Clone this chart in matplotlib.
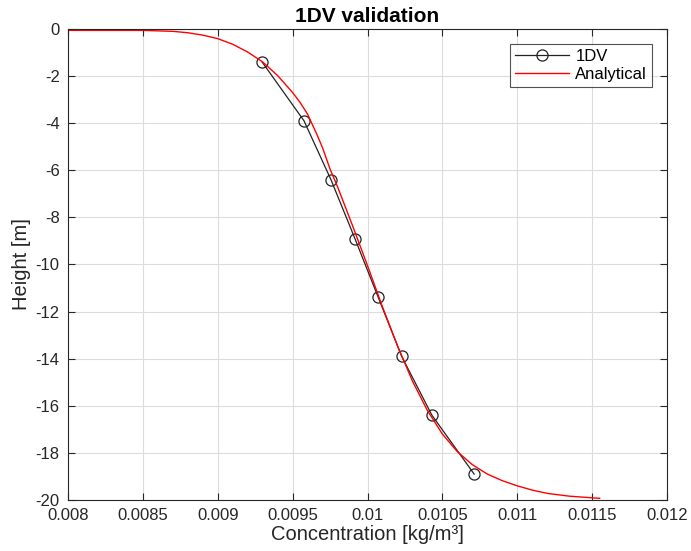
import numpy as np
import matplotlib
matplotlib.use('Agg')
import matplotlib.pyplot as plt

plt.rcParams['font.family'] = ['Liberation Sans', 'DejaVu Sans']
plt.rcParams['axes.unicode_minus'] = False

# 1DV model points
conc_1dv = [0.009296, 0.009576, 0.009756, 0.009916, 0.010072, 0.010228, 0.010430, 0.010712]
height_1dv = [-1.4, -3.9, -6.4, -8.9, -11.4, -13.9, -16.4, -18.9]

# analytical profile
conc_an = [0.00800, 0.00850, 0.00870, 0.00880, 0.00890, 0.00900, 0.00910, 0.00920,
           0.00930, 0.00940, 0.00950, 0.00955, 0.00960, 0.00966, 0.00970, 0.00975,
           0.00980, 0.00990, 0.01000, 0.01010, 0.01020, 0.01030, 0.01040, 0.01050,
           0.01060, 0.01070, 0.01080, 0.01090, 0.01100, 0.01110, 0.01120, 0.01135,
           0.01155]
height_an = [-0.06, -0.06, -0.10, -0.16, -0.26, -0.41, -0.65, -0.98,
             -1.40, -1.98, -2.70, -3.12, -3.62, -4.45, -5.05, -5.95,
             -6.70, -8.35, -10.05, -11.80, -13.45, -14.95, -16.20, -17.20,
             -17.95, -18.50, -18.90, -19.18, -19.40, -19.58, -19.72, -19.84,
             -19.93]

xticks = [0.008, 0.0085, 0.009, 0.0095, 0.01, 0.0105, 0.011, 0.0115, 0.012]
xlabels = ['0.008', '0.0085', '0.009', '0.0095', '0.01', '0.0105', '0.011', '0.0115', '0.012']
yticks = np.arange(-20, 1, 2)

fig = plt.figure(figsize=(6.91, 5.51), dpi=100)
ax = fig.add_axes([0.0984, 0.0926, 0.8669, 0.8548])

dark = '#262626'
ax.plot(conc_1dv, height_1dv, '-o', color='#222222', lw=0.9, ms=8,
        mfc='none', mec='#222222', mew=0.9, label='1DV')
ax.plot(conc_an, height_an, '-', color='red', lw=1.0, label='Analytical')

ax.set_xlim(0.008, 0.012)
ax.set_ylim(-20, 0)
ax.set_xticks(xticks)
ax.set_xticklabels(xlabels)
ax.set_yticks(yticks)
ax.grid(True, color='#dcdcdc', lw=0.8)
ax.set_axisbelow(True)
ax.tick_params(direction='in', top=True, right=True, length=5, width=0.8,
               colors=dark, labelsize=12, labelcolor=dark, pad=6)
for s in ax.spines.values():
    s.set_color(dark)
    s.set_linewidth(0.8)

ax.set_title('1DV validation', fontsize=15, fontweight='bold', pad=5)
ax.set_xlabel('Concentration [kg/m³]', fontsize=14.5, color=dark, labelpad=1)
ax.set_ylabel('Height [m]', fontsize=14.5, color=dark, labelpad=3)

leg = ax.legend(loc='upper right', fontsize=12, frameon=True, fancybox=False,
                borderaxespad=0.9, handlelength=3.2, borderpad=0.3,
                labelspacing=0.2, handletextpad=0.4)
leg.get_frame().set_edgecolor(dark)
leg.get_frame().set_linewidth(0.8)

fig.savefig('out.png', dpi=100)
